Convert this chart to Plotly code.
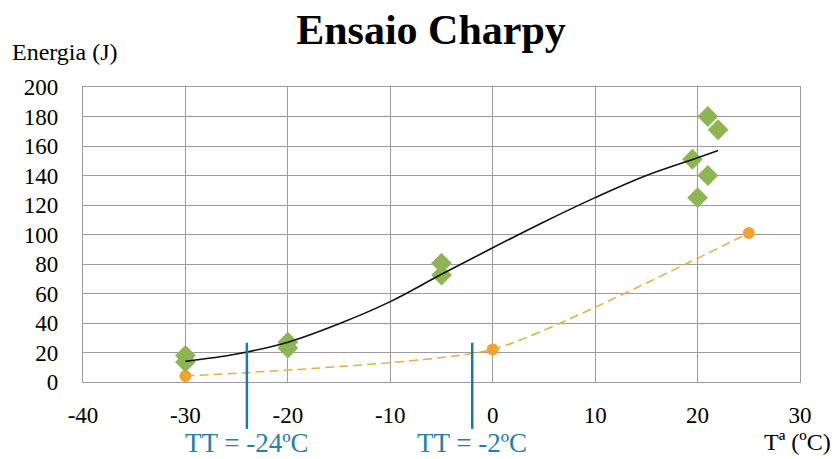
import plotly.graph_objects as go

# Data
green_T = [-30, -30, -20, -20, -5, -5, 19.5, 20, 21, 21, 22]
green_E = [18, 13.5, 27, 23, 80.5, 72.5, 151, 125, 180, 140, 171]

orange_T = [-30, 0, 25]
orange_E = [4, 22, 101]

fit_T = [-30, -25, -20, -15, -10, -5, 0, 5, 10, 15, 20, 22]
fit_E = [14, 19, 27, 39.5, 54.5, 73, 91, 108.5, 125, 140, 152, 157]

tt_values = [-24, -2]
tt_labels = ["TT = -24ºC", "TT = -2ºC"]

x_ticks = [-40, -30, -20, -10, 0, 10, 20, 30]
y_ticks = [0, 20, 40, 60, 80, 100, 120, 140, 160, 180, 200]

SERIF = "Liberation Serif"
GRID = "#9C9C9C"
TT_COLOR = "#2680A6"

fig = go.Figure()

fig.add_trace(go.Scatter(
    x=orange_T, y=orange_E, mode="markers",
    marker=dict(symbol="circle", size=12, color="#F2A233"),
    showlegend=False, hoverinfo="skip"))
fig.add_trace(go.Scatter(
    x=green_T, y=green_E, mode="markers",
    marker=dict(symbol="diamond", size=16, color="#8DB553"),
    showlegend=False, hoverinfo="skip"))
fig.add_trace(go.Scatter(
    x=orange_T, y=orange_E, mode="lines",
    line=dict(color="#E7AE3C", width=1.5, dash="9px,5px", shape="spline", smoothing=0.5),
    showlegend=False, hoverinfo="skip"))
fig.add_trace(go.Scatter(
    x=fit_T, y=fit_E, mode="lines",
    line=dict(color="#111111", width=1.6, shape="spline", smoothing=1),
    showlegend=False, hoverinfo="skip"))

for t, lab in zip(tt_values, tt_labels):
    fig.add_shape(type="line", xref="x", yref="paper",
                  x0=t, x1=t, y0=-0.159, y1=0.133,
                  line=dict(color="#1E7A9E", width=2.5), layer="above")
    fig.add_annotation(x=t, xref="x", y=-0.207, yref="paper",
                       text=lab, showarrow=False,
                       font=dict(family=SERIF, size=27, color=TT_COLOR),
                       xanchor="center", yanchor="middle")

fig.add_annotation(x=0.997, xref="paper", y=-0.203, yref="paper",
                   text="Tª (ºC)", showarrow=False,
                   font=dict(family=SERIF, size=24, color="#000000"),
                   xanchor="center", yanchor="middle")

fig.add_annotation(x=(65-83)/717, xref="paper", y=(382-52)/295, yref="paper",
                   text="Energia (J)", showarrow=False,
                   font=dict(family=SERIF, size=24, color="#000000"),
                   xanchor="center", yanchor="middle")

fig.update_layout(
    width=836, height=459,
    margin=dict(l=83, r=36, t=87, b=77, autoexpand=False),
    paper_bgcolor="white", plot_bgcolor="white",
    font=dict(family=SERIF),
    title=dict(text="<b>Ensaio Charpy</b>", x=431/836, xanchor="center",
               y=1-29/459, yanchor="middle", automargin=False,
               font=dict(family=SERIF, size=42, color="#000000")),
    xaxis=dict(range=[-40, 30], tickvals=x_ticks, ticktext=[str(v) for v in x_ticks],
               showgrid=True, gridcolor=GRID, gridwidth=1.3,
               showline=True, linecolor=GRID, linewidth=1.3, mirror=True,
               zeroline=False, ticks="", ticklabelstandoff=12, automargin=False,
               tickfont=dict(family=SERIF, size=23, color="#000000")),
    yaxis=dict(range=[0, 200], tickvals=y_ticks, ticktext=[str(v) for v in y_ticks],
               showgrid=True, gridcolor=GRID, gridwidth=1.3,
               showline=True, linecolor=GRID, linewidth=1.3, mirror=True,
               zeroline=False, ticks="", ticklabelstandoff=19, automargin=False,
               tickfont=dict(family=SERIF, size=23, color="#000000")),
)

fig.write_html("out.html", config={"displayModeBar": False},
               post_script="document.body.style.margin='0';")
